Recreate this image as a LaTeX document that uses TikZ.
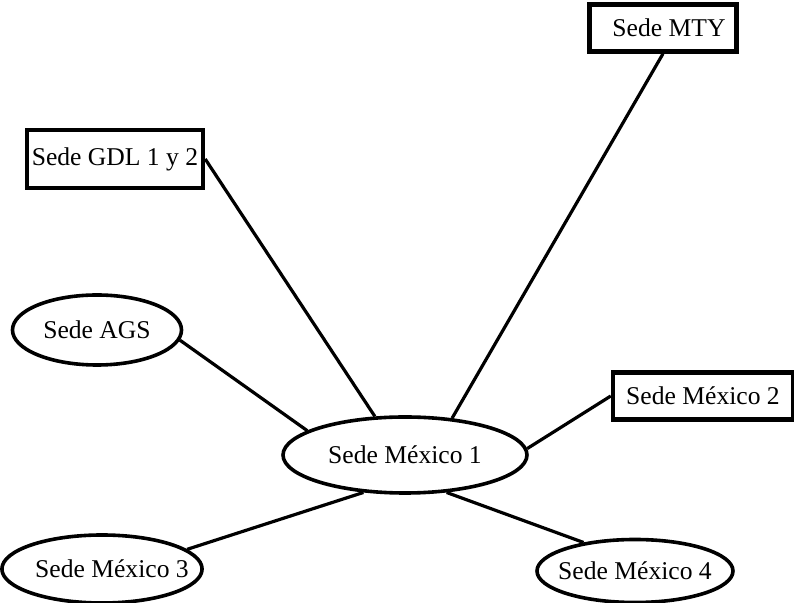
\documentclass[tikz,border=0pt]{standalone}
\usepackage{fontspec}
\setmainfont{Liberation Serif}
\usetikzlibrary{shapes.geometric}

\begin{document}
\begin{tikzpicture}[x=0.5pt,y=-0.5pt,
  sede/.style={draw,line width=1.8pt,ellipse,inner sep=0pt,font=\fontsize{12.8}{14}\selectfont},
  caja/.style={draw,line width=2.2pt,rectangle,inner sep=0pt,font=\fontsize{12.8}{14}\selectfont},
  enlace/.style={line width=1.6pt}]
\useasboundingbox (0,0) rectangle (794,603);
\node[caja,minimum width=73.5pt,minimum height=23.5pt] (mty) at (663,28) {\hspace*{6pt}Sede MTY};
\node[caja,minimum width=88pt,minimum height=29pt] (gdl) at (115,159) {Sede GDL 1 y 2};
\node[caja,minimum width=90pt,minimum height=23.5pt] (mx2) at (703,396) {Sede México 2};
\node[sede,minimum width=84.5pt,minimum height=35pt] (ags) at (97,330) {Sede AGS};
\node[sede,minimum width=122pt,minimum height=38pt] (mx1) at (405,455) {Sede México 1};
\node[sede,minimum width=98pt,minimum height=31.5pt,inner xsep=-4pt] (mx4) at (635,571) {Sede México 4};
\node[sede,minimum width=95pt,minimum height=34pt,inner xsep=-8pt] (mx3) at (102,569) {\hspace*{10pt}Sede México 3};
\foreach \a/\b in {mty.south/mx1.38, gdl.east/mx1.128, ags.-7/mx1.166,
                   mx2.west/mx1.3, mx4.151/mx1.-42, mx3.13/mx1.-138}
  \draw[enlace] (\a) -- (\b);
\end{tikzpicture}
\end{document}
